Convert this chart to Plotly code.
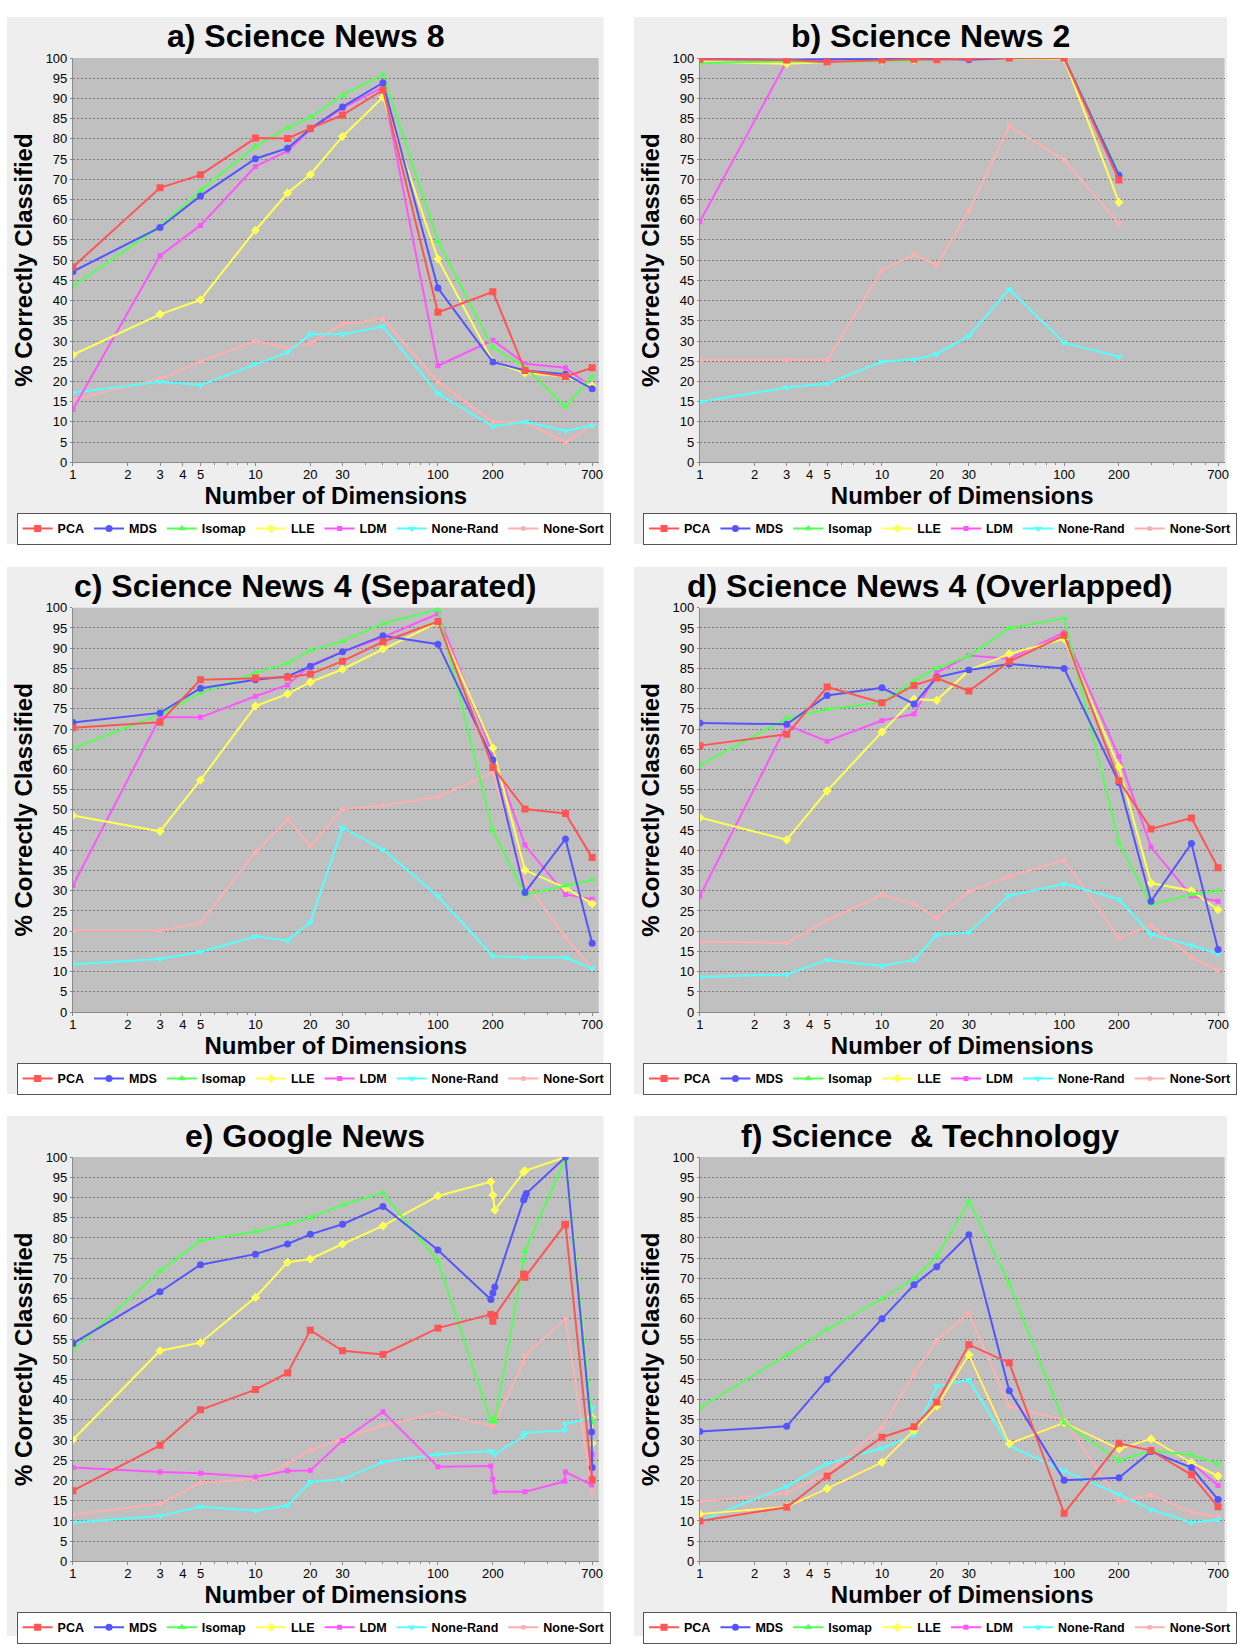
import math
import plotly.graph_objects as go

# ---------------- data ----------------
SERIES = ["PCA", "MDS", "Isomap", "LLE", "LDM", "None-Rand", "None-Sort"]
COLORS = ["#FF5555", "#5555FF", "#55FF55", "#FFFF55", "#FF55FF", "#55FFFF", "#FFAFAF"]
SYMBOLS = ["square", "circle", "triangle-up", "diamond", "square", "triangle-down", "circle"]
SIZES = [7, 7, 7, 7, 5, 7, 5]

X_TICKS = [1, 2, 3, 4, 5, 10, 20, 30, 100, 200, 700]
X_MINOR = [6, 7, 8, 9, 40, 50, 60, 70, 80, 90, 300, 400, 500, 600]

X_STD = [1, 3, 5, 10, 15, 20, 30, 50, 100, 200, 300, 500, 700]
X_B = [1, 3, 5, 10, 15, 20, 30, 50, 100, 200]

# a) Science News 8
a_pca = [48.3, 67.9, 71.1, 80.2, 80.1, 82.6, 85.9, 92.1, 37.1, 42.2, 22.7, 21.2, 23.4]
a_mds = [47.2, 58.1, 65.9, 75.1, 77.7, 82.5, 87.9, 93.9, 43.1, 24.8, 22.7, 21.8, 18.2]
a_iso = [43.6, 58.3, 67.3, 78.1, 82.8, 85.3, 90.8, 95.9, 54.7, 28.4, 23.6, 13.8, 21.2]
a_lle = [26.6, 36.6, 40.2, 57.4, 66.6, 71.2, 80.6, 90.3, 50.3, 24.9, 22.1, 21.2, 18.9]
a_ldm = [13.1, 51.1, 58.6, 73.2, 77.0, 82.3, 87.6, 92.8, 23.9, 30.2, 24.4, 23.4, 18.5]
a_nr = [17.2, 19.9, 19.1, 24.3, 27.2, 31.7, 31.7, 33.6, 17.0, 8.9, 10.0, 7.8, 9.1]
a_ns = [15.5, 20.6, 24.9, 30.0, 28.3, 29.4, 34.2, 35.5, 19.9, 10.0, 10.0, 4.9, 9.4]

# b) Science News 2
b_pca = [99.7, 99.5, 99.0, 99.5, 99.7, 99.6, 99.9, 100, 100, 69.8]
b_mds = [99.8, 99.6, 99.7, 99.8, 99.8, 99.8, 99.6, 100, 100, 71.0]
b_iso = [98.7, 99.2, 99.0, 99.2, 99.4, 99.7, 99.8, 100, 100, 71.4]
b_lle = [99.0, 98.6, 99.0, 99.4, 99.5, 99.7, 99.8, 100, 99.8, 64.3]
b_ldm = [59.5, 99.2, 99.4, 99.5, 99.6, 99.7, 99.8, 100, 100, 70.5]
b_nr = [14.9, 18.5, 19.5, 24.9, 25.4, 26.8, 31.3, 42.8, 29.6, 26.1]
b_ns = [25.3, 25.3, 25.3, 47.5, 51.4, 48.8, 62.3, 83.1, 74.8, 59.1]

# c) Science News 4 (Separated)
c_pca = [70.3, 71.7, 82.2, 82.6, 82.8, 83.6, 86.8, 91.6, 96.6, 60.5, 50.2, 49.1, 38.2]
c_mds = [71.6, 74.0, 80.1, 82.2, 83.0, 85.5, 89.1, 93.1, 91.0, 62.4, 29.6, 42.8, 17.0]
c_iso = [65.2, 73.6, 78.9, 83.9, 86.3, 89.4, 91.7, 96.1, 99.6, 44.9, 29.0, 31.3, 32.7]
c_lle = [48.6, 44.7, 57.4, 75.7, 78.7, 81.6, 84.8, 89.8, 96.4, 65.3, 35.1, 30.7, 26.8]
c_ldm = [31.3, 72.9, 72.9, 78.1, 80.9, 85.8, 89.1, 92.7, 98.5, 63.6, 41.3, 29.1, 27.9]
c_nr = [11.8, 13.1, 14.9, 18.7, 17.7, 22.2, 45.6, 40.2, 28.7, 13.8, 13.5, 13.5, 10.8]
c_ns = [20.1, 20.1, 22.1, 39.5, 47.7, 41.1, 50.2, 51.1, 53.2, 59.2, 32.4, 18.5, 10.8]

# d) Science News 4 (Overlapped)
d_pca = [65.9, 68.7, 80.4, 76.5, 80.8, 82.6, 79.4, 86.7, 93.2, 57.2, 45.3, 48.0, 35.7]
d_mds = [71.5, 71.2, 78.3, 80.2, 76.2, 82.8, 84.6, 86.1, 85.0, 56.8, 27.4, 41.7, 15.5]
d_iso = [61.1, 72.6, 74.9, 76.6, 81.9, 85.1, 88.1, 95.0, 97.4, 41.9, 26.6, 29.1, 30.0]
d_lle = [48.1, 42.6, 54.7, 69.3, 77.4, 77.1, 84.5, 88.6, 92.3, 60.6, 31.9, 30.0, 25.3]
d_ldm = [28.7, 71.0, 67.0, 72.1, 73.7, 83.9, 88.2, 87.4, 93.9, 63.2, 40.8, 28.7, 27.4]
d_nr = [8.7, 9.3, 12.9, 11.4, 12.9, 19.1, 19.7, 28.8, 31.7, 27.9, 19.2, 16.5, 14.5]
d_ns = [17.4, 17.1, 22.7, 29.0, 26.7, 23.3, 29.8, 33.6, 37.6, 18.3, 21.5, 13.5, 10.4]

# e) Google News (several runs near 200, 300, 500 and 700 dimensions)
e_x_pca = [1, 3, 5, 10, 15, 20, 30, 50, 100, 195, 200, 205, 295, 300, 495, 500, 700]
e_pca = [17.5, 28.7, 37.5, 42.5, 46.6, 57.2, 52.1, 51.2, 57.7, 61.1, 59.4, 60.8, 71.1, 70.3, 83.2, 83.4, 20.2]
e_x_mds = [1, 3, 5, 10, 15, 20, 30, 50, 100, 195, 200, 205, 295, 300, 305, 500, 695, 700]
e_mds = [53.9, 66.7, 73.4, 76.0, 78.5, 80.9, 83.4, 87.8, 77.0, 64.8, 66.4, 67.9, 89.4, 90.2, 91.0, 100, 32.0, 23.2]
e_x_iso = [1, 3, 5, 10, 15, 20, 30, 50, 100, 195, 200, 205, 295, 300, 500, 695, 700]
e_iso = [52.3, 71.8, 79.3, 81.6, 83.4, 85.0, 88.2, 91.1, 74.3, 34.7, 35.5, 34.5, 74.4, 76.8, 99.6, 35.3, 34.3]
e_x_lle = [1, 3, 5, 10, 15, 20, 30, 50, 100, 195, 200, 205, 295, 300, 500, 695, 700]
e_lle = [30.1, 52.1, 54.1, 65.3, 74.0, 74.8, 78.5, 83.0, 90.4, 93.9, 90.6, 86.9, 96.3, 96.6, 100, 35.7, 29.2]
e_x_ldm = [1, 3, 5, 10, 15, 20, 30, 50, 100, 195, 200, 205, 300, 495, 500, 695, 700]
e_ldm = [23.2, 22.1, 21.8, 20.9, 22.4, 22.5, 29.9, 37.0, 23.4, 23.6, 20.3, 17.2, 17.2, 19.8, 22.1, 18.9, 26.5]
e_x_nr = [1, 3, 5, 10, 15, 20, 30, 50, 100, 195, 205, 295, 300, 495, 500, 695, 700]
e_nr = [9.6, 11.2, 13.6, 12.5, 13.8, 19.7, 20.3, 24.6, 26.5, 27.3, 26.5, 31.0, 31.8, 32.4, 34.0, 35.6, 38.0]
e_x_ns = [1, 3, 5, 10, 15, 20, 30, 50, 100, 200, 295, 300, 500, 700]
e_ns = [11.6, 14.2, 19.5, 20.3, 24.2, 27.5, 30.4, 33.6, 36.7, 33.4, 49.3, 50.9, 60.1, 17.2]

# f) Science & Technology
f_pca = [10.0, 13.4, 21.1, 30.7, 33.3, 39.4, 53.6, 49.1, 11.9, 29.2, 27.4, 21.4, 13.5]
f_mds = [32.1, 33.4, 45.0, 60.0, 68.4, 72.9, 80.8, 42.2, 20.1, 20.7, 27.2, 23.2, 15.3]
f_iso = [38.0, 51.0, 57.4, 64.9, 69.9, 75.4, 89.1, 68.7, 34.3, 24.9, 27.4, 26.3, 24.2]
f_lle = [11.7, 13.5, 18.0, 24.5, 32.4, 38.4, 51.1, 29.1, 34.3, 27.8, 30.3, 24.4, 21.1]
f_ldm = [11.7, 13.5, 18.0, 24.5, 32.4, 38.4, 51.1, 29.1, 34.3, 27.8, 30.3, 24.4, 18.8]
f_nr = [10.0, 18.6, 24.2, 28.0, 31.3, 43.3, 44.9, 28.6, 22.4, 16.6, 12.8, 9.6, 10.3]
f_ns = [14.8, 16.9, 21.9, 33.1, 46.4, 54.7, 61.4, 38.3, 35.1, 14.7, 16.5, 12.2, 10.9]

TITLES = ["a) Science News 8", "b) Science News 2",
          "c) Science News 4 (Separated)", "d) Science News 4 (Overlapped)",
          "e) Google News", "f) Science\u00a0 & Technology"]

PANELS = [
    ([X_STD] * 7, [a_pca, a_mds, a_iso, a_lle, a_ldm, a_nr, a_ns]),
    ([X_B] * 7, [b_pca, b_mds, b_iso, b_lle, b_ldm, b_nr, b_ns]),
    ([X_STD] * 7, [c_pca, c_mds, c_iso, c_lle, c_ldm, c_nr, c_ns]),
    ([X_STD] * 7, [d_pca, d_mds, d_iso, d_lle, d_ldm, d_nr, d_ns]),
    ([e_x_pca, e_x_mds, e_x_iso, e_x_lle, e_x_ldm, e_x_nr, e_x_ns],
     [e_pca, e_mds, e_iso, e_lle, e_ldm, e_nr, e_ns]),
    ([X_STD] * 7, [f_pca, f_mds, f_iso, f_lle, f_ldm, f_nr, f_ns]),
]

# ---------------- geometry (pixels) ----------------
W, H = 1237, 1644
COL_PLOT = [(69.5, 599.5), (701.5, 1230.5)]
ROW_TOP = [51.5, 606.3, 1160.7]
PLOT_H = 408.0
COL_BG = [(3, 604.5), (635, 1233)]
ROW_BG = [(10, 542), (565, 1097), (1119, 1644)]
TITLE_Y = [29.5, 584.5, 1139]
TITLE_X = [303.8, 934.0]
LEGEND_TOP = [510.5, 1065.5, 1619.5]
LEGEND_LEFT = [12.7, 644.5]

FONT = "Liberation Sans, Arial, sans-serif"
AXIS_GRAY = "#8a8a8a"

fig = go.Figure()
layout = dict(
    width=W, height=H, autosize=False,
    margin=dict(l=0, r=0, t=0, b=0),
    paper_bgcolor="white", plot_bgcolor="#C0C0C0",
    font=dict(family=FONT, color="black"),
    showlegend=True,
)
shapes = []
annotations = []

for k, (xs, ys) in enumerate(PANELS):
    row, col = k // 2, k % 2
    suf = "" if k == 0 else str(k + 1)
    xname, yname = "x" + suf, "y" + suf
    lname = "legend" + suf

    # panel background
    shapes.append(dict(type="rect", xref="paper", yref="paper", layer="below",
                       x0=COL_BG[col][0] / W, x1=COL_BG[col][1] / W,
                       y0=1 - ROW_BG[row][1] / H, y1=1 - ROW_BG[row][0] / H,
                       fillcolor="#EEEEEE", line=dict(width=0)))
    shapes.append(dict(type="rect", xref=xname + " domain", yref=yname + " domain", layer="below",
                       x0=0, x1=1, y0=0, y1=1, fillcolor="#C0C0C0", line=dict(width=0)))

    # traces: first series drawn on top
    for i in reversed(range(7)):
        fig.add_trace(go.Scatter(
            x=xs[i], y=ys[i], mode="lines+markers", name=SERIES[i],
            line=dict(color=COLORS[i], width=2),
            marker=dict(symbol=SYMBOLS[i], size=SIZES[i], color=COLORS[i], line=dict(width=0)),
            xaxis=xname, yaxis=yname, legend=lname, legendrank=i + 1,
            cliponaxis=True,
        ))

    x0, x1 = COL_PLOT[col]
    top = ROW_TOP[row]
    layout["xaxis" + suf] = dict(
        type="log", range=[0, math.log10(760)],
        domain=[x0 / W, x1 / W], anchor=yname,
        tickmode="array", tickvals=X_TICKS, ticktext=[str(v) for v in X_TICKS],
        tickfont=dict(size=13, family=FONT, color="black"),
        ticks="outside", ticklen=3, tickcolor=AXIS_GRAY, ticklabelstandoff=-3,
        minor=dict(tickmode="array", tickvals=X_MINOR, ticks="outside", ticklen=2,
                   tickcolor=AXIS_GRAY, showgrid=False),
        showgrid=False, zeroline=False, showline=True, linecolor=AXIS_GRAY, linewidth=1,
        title=dict(text="Number of Dimensions", standoff=5,
                   font=dict(size=24, family=FONT, weight="bold", color="black")),
        fixedrange=True,
    )
    layout["yaxis" + suf] = dict(
        range=[0, 100], domain=[1 - (top + PLOT_H) / H, 1 - top / H], anchor=xname,
        tickmode="linear", tick0=0, dtick=5,
        tickfont=dict(size=13, family=FONT, color="black"),
        ticks="outside", ticklen=2, tickcolor=AXIS_GRAY,
        showgrid=True, gridcolor="#7a7a7a", gridwidth=1, griddash="2px,2px",
        zeroline=False, showline=True, linecolor=AXIS_GRAY, linewidth=1,
        title=dict(text="% Correctly Classified", standoff=6,
                   font=dict(size=24, family=FONT, weight="bold", color="black")),
        fixedrange=True,
    )
    layout[lname] = dict(
        x=LEGEND_LEFT[col] / W, y=1 - LEGEND_TOP[row] / H,
        xanchor="left", yanchor="top", orientation="h",
        bgcolor="white", bordercolor="#555555", borderwidth=1,
        font=dict(size=12.5, family=FONT, weight="bold", color="black"),
        itemwidth=30, traceorder="normal",
    )
    annotations.append(dict(
        text=TITLES[k], xref="paper", yref="paper",
        x=TITLE_X[col] / W, y=1 - TITLE_Y[row] / H,
        xanchor="center", yanchor="middle", showarrow=False,
        font=dict(size=32, family=FONT, weight="bold", color="black"),
    ))

layout["shapes"] = shapes
layout["annotations"] = annotations
fig.update_layout(**layout)

fig.write_html("out.html", config={"displayModeBar": False})
